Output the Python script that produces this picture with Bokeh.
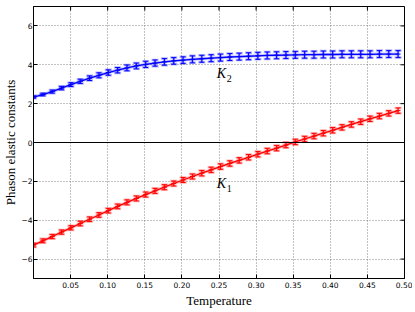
from bokeh.plotting import figure
from bokeh.models import FixedTicker, Span, Range1d, ColumnDataSource
from bokeh.core.properties import value
from bokeh.embed import file_html
from bokeh.resources import INLINE

temperature = [0.0, 0.0126, 0.0252, 0.0378, 0.0504, 0.0630, 0.0756, 0.0882, 0.1008, 0.1134,
               0.1260, 0.1386, 0.1512, 0.1638, 0.1764, 0.1890, 0.2016, 0.2142, 0.2268, 0.2394,
               0.2520, 0.2646, 0.2772, 0.2898, 0.3024, 0.3150, 0.3276, 0.3402, 0.3528, 0.3654,
               0.3780, 0.3906, 0.4032, 0.4158, 0.4284, 0.4410, 0.4536, 0.4662, 0.4788, 0.4914]
k1 = [-5.28, -5.06, -4.84, -4.61, -4.39, -4.17, -3.95, -3.73, -3.51, -3.29,
      -3.08, -2.88, -2.68, -2.49, -2.30, -2.11, -1.93, -1.75, -1.58, -1.41,
      -1.24, -1.08, -0.92, -0.76, -0.60, -0.44, -0.29, -0.13, 0.03, 0.18,
      0.33, 0.48, 0.63, 0.78, 0.93, 1.07, 1.22, 1.36, 1.50, 1.64]
k1_err = [0.10, 0.10, 0.11, 0.11, 0.11, 0.12, 0.12, 0.12, 0.12, 0.12,
          0.13, 0.13, 0.13, 0.13, 0.13, 0.13, 0.13, 0.13, 0.14, 0.14,
          0.14, 0.14, 0.14, 0.14, 0.14, 0.14, 0.14, 0.14, 0.14, 0.14,
          0.14, 0.14, 0.14, 0.14, 0.14, 0.14, 0.14, 0.14, 0.14, 0.14]
k2 = [2.34, 2.47, 2.62, 2.80, 2.98, 3.15, 3.31, 3.46, 3.60, 3.72,
      3.84, 3.94, 4.02, 4.09, 4.15, 4.20, 4.24, 4.28, 4.31, 4.34,
      4.37, 4.40, 4.42, 4.44, 4.46, 4.48, 4.49, 4.50, 4.51, 4.52,
      4.52, 4.53, 4.53, 4.54, 4.54, 4.54, 4.54, 4.55, 4.55, 4.55]
k2_err = [0.06, 0.07, 0.08, 0.09, 0.10, 0.11, 0.12, 0.13, 0.14, 0.14,
          0.15, 0.15, 0.16, 0.16, 0.17, 0.17, 0.17, 0.18, 0.18, 0.18,
          0.18, 0.18, 0.18, 0.18, 0.18, 0.18, 0.18, 0.18, 0.18, 0.18,
          0.18, 0.18, 0.18, 0.18, 0.18, 0.18, 0.18, 0.18, 0.18, 0.18]

x_ticks = [0.05, 0.10, 0.15, 0.20, 0.25, 0.30, 0.35, 0.40, 0.45, 0.50]
x_tick_labels = ["0.05", "0.10", "0.15", "0.20", "0.25", "0.30", "0.35", "0.40", "0.45", "0.50"]
y_ticks = [-6, -4, -2, 0, 2, 4, 6]
y_tick_labels = ["\u22126", "\u22124", "\u22122", "0", "2", "4", "6"]
x_min, x_max = 0.0, 0.5
y_min, y_max = -7, 7

label_names = ["K", "K"]
label_subs = ["2", "1"]
label_x = [0.247, 0.247]
label_y = [3.55, -2.1]

x_label = "Temperature"
y_label = "Phason elastic constants"

SERIF = "Liberation Serif"
SANS = "DejaVu Sans"

p = figure(width=412, height=310, x_range=Range1d(x_min, x_max), y_range=Range1d(y_min, y_max),
           output_backend="svg", toolbar_location=None,
           min_border_left=33, min_border_right=8, min_border_top=6, min_border_bottom=28)

p.background_fill_color = "white"
p.border_fill_color = "white"
p.outline_line_color = "black"
p.outline_line_width = 1

# grid
p.xgrid.ticker = FixedTicker(ticks=x_ticks)
p.ygrid.ticker = FixedTicker(ticks=y_ticks)
for g in (p.xgrid, p.ygrid):
    g.grid_line_color = "#666666"
    g.grid_line_dash = "1 2"
    g.grid_line_width = 1
    g.grid_line_alpha = 0.8

# axes
xa = p.xaxis[0]
xa.ticker = FixedTicker(ticks=x_ticks)
xa.major_label_overrides = {t: l for t, l in zip(x_ticks, x_tick_labels)}
ya = p.yaxis[0]
ya.ticker = FixedTicker(ticks=y_ticks)
ya.major_label_overrides = {t: l for t, l in zip(y_ticks, y_tick_labels)}
for ax in (xa, ya):
    ax.major_tick_in = 4
    ax.major_tick_out = 0
    ax.minor_tick_in = 0
    ax.minor_tick_out = 0
    ax.axis_line_color = "black"
    ax.major_tick_line_color = "black"
    ax.major_label_text_font = SANS
    ax.major_label_text_font_size = "7.5px"
    ax.major_label_text_color = "black"
    ax.axis_label_text_font = SERIF
    ax.axis_label_text_font_size = "13px"
    ax.axis_label_text_font_style = "normal"
    ax.axis_label_text_color = "black"
xa.axis_label = x_label
ya.axis_label = y_label
xa.major_label_standoff = 3
ya.major_label_standoff = 1
xa.axis_label_standoff = 2
ya.axis_label_standoff = 0

# inward ticks on the top and right edges (half of each marker is clipped by the frame)
p.scatter(x=x_ticks, y=[y_max] * len(x_ticks), marker="dash", angle=1.5708, size=8,
          line_color="black", line_width=1)
p.scatter(x=[x_max] * len(y_ticks), y=y_ticks, marker="dash", size=8,
          line_color="black", line_width=1)

p.add_layout(Span(location=0, dimension="width", line_color="black", line_width=1))

def series(t, y, err, color):
    src = ColumnDataSource(dict(t=t, y=y, lo=[a - e for a, e in zip(y, err)],
                                hi=[a + e for a, e in zip(y, err)]))
    p.segment(x0="t", y0="lo", x1="t", y1="hi", source=src, line_color=color,
              line_alpha=0.3, line_width=2.5)
    p.scatter("t", "lo", source=src, marker="dash", size=7, line_color=color,
              line_alpha=0.3, line_width=2.5)
    p.scatter("t", "hi", source=src, marker="dash", size=7, line_color=color,
              line_alpha=0.3, line_width=2.5)
    p.line("t", "y", source=src, line_color=color, line_alpha=0.25, line_width=3)
    p.segment(x0="t", y0="lo", x1="t", y1="hi", source=src, line_color=color, line_width=1)
    p.scatter("t", "lo", source=src, marker="dash", size=5, line_color=color, line_width=1)
    p.scatter("t", "hi", source=src, marker="dash", size=5, line_color=color, line_width=1)
    p.scatter("t", "y", source=src, marker="dash", size=5, line_color=color, line_width=1)
    p.line("t", "y", source=src, line_color=color, line_width=1.3)

series(temperature, k2, k2_err, "#0000ff")
series(temperature, k1, k1_err, "#ff0000")

p.text(x=label_x, y=label_y, text=label_names, text_font=value(SERIF),
       text_font_style="italic", text_font_size="14px", text_baseline="middle",
       text_align="left", text_color="black")
p.text(x=label_x, y=label_y, text=label_subs, x_offset=10, y_offset=5,
       text_font=value(SERIF), text_font_size="10px", text_baseline="middle",
       text_align="left", text_color="black")

open("out.html", "w").write(file_html(p, INLINE))
